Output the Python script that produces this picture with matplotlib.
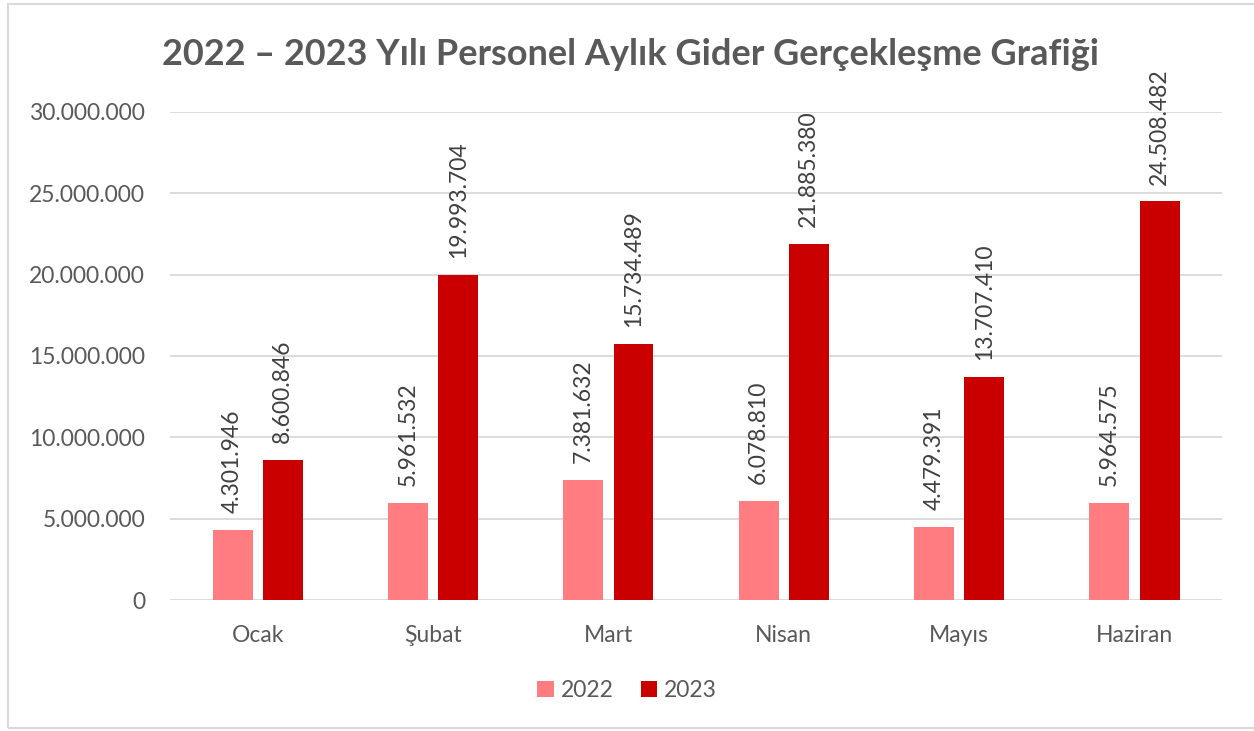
import matplotlib
matplotlib.use("Agg")
import matplotlib.pyplot as plt
import numpy as np
from matplotlib.patches import Rectangle
from matplotlib.ticker import FuncFormatter

# Data
months = ["Ocak", "Şubat", "Mart", "Nisan", "Mayıs", "Haziran"]
values_2022 = [4301946, 5961532, 7381632, 6078810, 4479391, 5964575]
values_2023 = [8600846, 19993704, 15734489, 21885380, 13707410, 24508482]
years = ["2022", "2023"]

plt.rcParams["font.family"] = ["Lato", "DejaVu Sans"]


def dotted(v):
    return f"{int(round(v)):,}".replace(",", ".")


fig = plt.figure(figsize=(12.54, 7.31), dpi=100)
ax = fig.add_axes([0.1356, 0.1792, 0.839, 0.6676])

x = np.arange(len(months))
w = 0.228
off = 0.143
b1 = ax.bar(x - off, values_2022, w, color="#FF7C80", label=years[0], zorder=3)
b2 = ax.bar(x + off, values_2023, w, color="#CA0000", label=years[1], zorder=3)

for bars in (b1, b2):
    for rect in bars:
        h = rect.get_height()
        ax.annotate(dotted(h), (rect.get_x() + rect.get_width() / 2, h),
                    xytext=(0, 12), textcoords="offset points",
                    rotation=90, ha="center", va="bottom",
                    fontsize=16.5, color="#404040")

ax.set_xlim(-0.5, len(months) - 0.5)
ax.set_ylim(0, 30000000)
ax.set_yticks(np.arange(0, 30000001, 5000000))
ax.yaxis.set_major_formatter(FuncFormatter(lambda v, p: dotted(v)))
ax.set_xticks(x)
ax.set_xticklabels(months)
ax.tick_params(axis="both", length=0, labelsize=16.5, labelcolor="#595959")
ax.tick_params(axis="y", pad=18)
ax.tick_params(axis="x", pad=18)
ax.grid(axis="y", color="#D9D9D9", linewidth=1.3, zorder=0)
for s in ax.spines.values():
    s.set_visible(False)

fig.suptitle("2022 – 2023 Yılı Personel Aylık Gider Gerçekleşme Grafiği",
             x=0.503, y=0.925, fontsize=26, fontweight="bold", color="#595959",
             va="center")

fig.legend(loc="center", bbox_to_anchor=(0.5, 0.055), ncol=2, frameon=False,
           fontsize=16.5, labelcolor="#595959", handlelength=0.7,
           handleheight=0.7, handletextpad=0.3, columnspacing=1.2)

fig.patches.append(Rectangle((0.006, 0.004), 1.2, 0.99, transform=fig.transFigure,
                             fill=False, edgecolor="#D9D9D9", linewidth=1.5))

fig.savefig("out.png", dpi=100)
